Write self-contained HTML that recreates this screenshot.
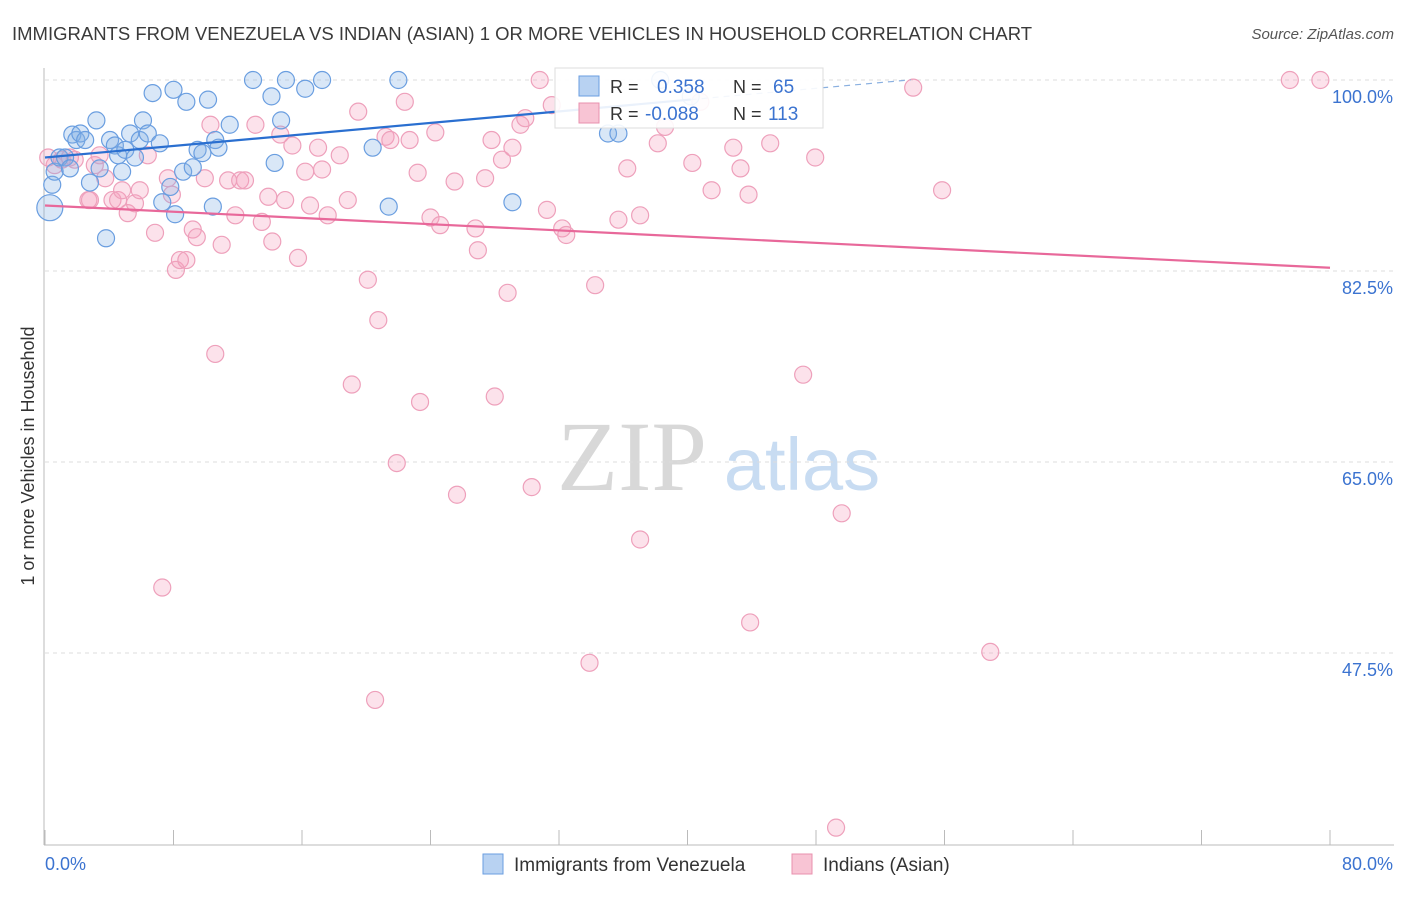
<!DOCTYPE html>
<html><head><meta charset="utf-8"><style>
body{margin:0;background:#fff;font-family:"Liberation Sans",sans-serif}
</style></head><body>
<svg id="chart" width="1406" height="892" viewBox="0 0 1406 892" xmlns="http://www.w3.org/2000/svg" font-family="Liberation Sans, sans-serif">
<text x="12" y="40" font-size="18.5" fill="#3a3a3a">IMMIGRANTS FROM VENEZUELA VS INDIAN (ASIAN) 1 OR MORE VEHICLES IN HOUSEHOLD CORRELATION CHART</text>
<text x="1394" y="39" font-size="15" fill="#555" text-anchor="end" font-style="italic">Source: ZipAtlas.com</text>
<g>
<text x="632" y="490" font-size="100" fill="#d8d8d8" font-family="Liberation Serif, serif" text-anchor="middle">ZIP</text>
<text x="802" y="490" font-size="74" fill="#c8dcf2" text-anchor="middle">atlas</text>
</g>
<g id="grid"></g><g id="axes"></g><g id="pink"></g><g id="blue"></g><g id="trends"></g>
<text transform="translate(34,456) rotate(-90)" font-size="18" fill="#333" text-anchor="middle">1 or more Vehicles in Household</text>
<g>
<rect x="555" y="68" width="268" height="60" fill="rgba(255,255,255,0.9)" stroke="#ddd"/>
<rect x="579" y="76" width="20" height="20" fill="#b8d2f2" stroke="#6a9ee0"/>
<rect x="579" y="103" width="20" height="20" fill="#f8c4d4" stroke="#e890ae"/>
<text x="610" y="93" font-size="18" fill="#333">R = </text><text x="657" y="93" font-size="19" fill="#3b73d0">0.358</text>
<text x="733" y="93" font-size="18" fill="#333">N = </text><text x="773" y="93" font-size="19" fill="#3b73d0">65</text>
<text x="610" y="120" font-size="18" fill="#333">R = </text><text x="645" y="120" font-size="19" fill="#3b73d0">-0.088</text>
<text x="733" y="120" font-size="18" fill="#333">N = </text><text x="768" y="120" font-size="19" fill="#3b73d0">113</text>
</g>
<g>
<rect x="483" y="854" width="20" height="20" fill="#b8d2f2" stroke="#6a9ee0"/>
<text x="514" y="871" font-size="19" fill="#333">Immigrants from Venezuela</text>
<rect x="792" y="854" width="20" height="20" fill="#f8c4d4" stroke="#e890ae"/>
<text x="823" y="871" font-size="19" fill="#333">Indians (Asian)</text>
</g>
</svg>
<script>
const yTicks=[100,82.5,65,47.5];
const xTickLabels=["0.0%","80.0%"];
const blueX=[0.3,0.45,0.6,0.9,1.25,1.55,1.7,1.95,2.2,2.5,2.8,3.2,3.4,3.8,4.05,4.35,4.55,4.8,5.0,5.3,5.6,5.9,6.1,6.4,6.7,7.15,7.3,7.8,8.0,8.1,8.6,8.8,9.2,9.5,9.8,10.15,10.45,10.6,10.8,11.5,12.95,14.1,14.3,14.7,15.0,16.2,17.25,20.4,21.4,22.0,29.1,35.05,35.7,38.3,40.2];
const blueY=[88.3,90.4,91.6,92.9,92.9,91.9,95.0,94.5,95.1,94.5,90.6,96.3,91.9,85.5,94.5,94.0,93.1,91.6,93.6,95.1,92.9,94.5,96.3,95.1,98.8,94.2,88.8,90.2,99.1,87.7,91.6,98.0,92.0,93.6,93.3,98.2,88.4,94.5,93.8,95.9,100,98.5,92.4,96.3,100,99.2,100,93.8,88.4,100,88.8,95.1,95.1,100,98.5];
const pinkX=[0.2,0.6,1.05,1.55,1.85,2.7,2.8,3.1,3.4,3.75,4.2,4.55,4.8,5.15,5.6,5.9,6.4,6.85,7.3,7.65,7.9,8.15,8.4,8.8,9.2,9.45,9.95,10.3,10.6,11.0,11.4,11.85,12.15,12.45,13.1,13.5,13.9,14.15,14.65,14.95,15.4,15.75,16.2,16.5,17.0,17.25,17.6,18.35,18.85,19.1,19.5,20.1,20.55,20.75,21.2,21.5,21.9,22.4,22.7,23.2,23.35,24.0,24.3,24.6,25.5,25.65,26.8,26.95,27.4,27.8,28.0,28.45,28.8,29.1,29.6,29.9,30.3,30.8,31.25,31.55,32.2,32.45,33.9,34.25,35.7,36.25,37.05,37.05,38.15,38.6,40.3,40.8,41.5,42.85,43.3,43.8,43.9,45.15,47.2,47.95,49.25,49.6,54.05,55.85,58.85,77.5,79.4];
const pinkY=[92.9,92.2,92.7,92.9,92.7,89.0,89.0,92.2,93.1,91.0,89.0,89.0,89.9,87.8,88.7,89.9,93.1,86.0,53.5,91.0,89.5,82.6,83.5,83.5,86.3,85.6,91.0,95.9,74.9,84.9,90.8,87.6,90.8,90.8,95.9,87.0,89.3,85.2,95.0,89.0,94.0,83.7,91.6,88.5,93.8,91.8,87.6,93.1,89.0,72.1,97.1,81.7,43.2,78.0,94.8,94.5,64.9,98.0,94.5,91.5,70.5,87.4,95.2,86.7,90.7,62.0,86.4,84.4,91.0,94.5,71.0,92.7,80.5,93.8,95.9,96.5,62.7,100,88.1,97.7,86.4,85.8,46.6,81.2,87.2,91.9,57.9,87.6,94.2,95.7,92.4,98.0,89.9,93.8,91.9,89.5,50.3,94.2,73.0,92.9,31.5,60.3,99.3,89.9,47.6,100,100];
const blueTrend=[92.9,0.132];
const pinkTrend=[88.5,-0.0713];
const NS="http://www.w3.org/2000/svg";
const X=v=>45+v*1285/80, Y=v=>80+(100-v)*191/17.5;
function mk(t,a,p){const e=document.createElementNS(NS,t);for(const k in a)e.setAttribute(k,a[k]);p.appendChild(e);return e;}
const grid=document.getElementById('grid'),axes=document.getElementById('axes');
yTicks.forEach(v=>{
 const l=mk('line',{x1:45,x2:1394,y1:Y(v),y2:Y(v),stroke:'#ddd','stroke-dasharray':'4,4'},grid);
 
 
 const t=mk('text',{x:1393,y:Y(v)+23,'font-size':18,fill:'#3b73d0','text-anchor':'end'},axes);
 t.textContent=v.toFixed(1)+'%';
 
 
});
mk('line',{x1:44,x2:44,y1:68,y2:845,stroke:'#bbb'},axes);
mk('line',{x1:44,x2:1394,y1:845,y2:845,stroke:'#bbb'},axes);
for(let i=0;i<=10;i++){const t=mk('line',{x1:X(i*8),x2:X(i*8),y1:830,y2:845,stroke:'#bbb'},axes);
 
 }
const xl0=mk('text',{x:45,y:870,'font-size':18,fill:'#3b73d0'},axes);xl0.textContent=xTickLabels[0];


const xl1=mk('text',{x:1393,y:870,'font-size':18,fill:'#3b73d0','text-anchor':'end'},axes);xl1.textContent=xTickLabels[1];


const pg=document.getElementById('pink');
pinkX.forEach((x,i)=>{const c=mk('circle',{cx:X(x),cy:Y(pinkY[i]),r:8.5,fill:'rgba(244,160,190,0.3)',stroke:'#eea0bb','stroke-width':1.2},pg);
 
 });
const bg=document.getElementById('blue');
blueX.forEach((x,i)=>{const c=mk('circle',{cx:X(x),cy:Y(blueY[i]),r:i===0?13:8.5,fill:'rgba(130,175,230,0.3)',stroke:'#6a9ee0','stroke-width':1.2},bg);
 
 });
const tg=document.getElementById('trends');
const bEnd=40.2, bDash=53.9;
const b1=mk('line',{x1:X(0),y1:Y(blueTrend[0]),x2:X(bEnd),y2:Y(blueTrend[0]+blueTrend[1]*bEnd),stroke:'#2a6fd0','stroke-width':2.2},tg);


const b2=mk('line',{x1:X(bEnd),y1:Y(blueTrend[0]+blueTrend[1]*bEnd),x2:X(bDash),y2:Y(blueTrend[0]+blueTrend[1]*bDash),stroke:'#8ab0e0','stroke-width':1.2,'stroke-dasharray':'6,5'},tg);


const p1=mk('line',{x1:X(0),y1:Y(pinkTrend[0]),x2:X(80),y2:Y(pinkTrend[0]+pinkTrend[1]*80),stroke:'#e8689a','stroke-width':2.2},tg);


</script>
</body></html>
